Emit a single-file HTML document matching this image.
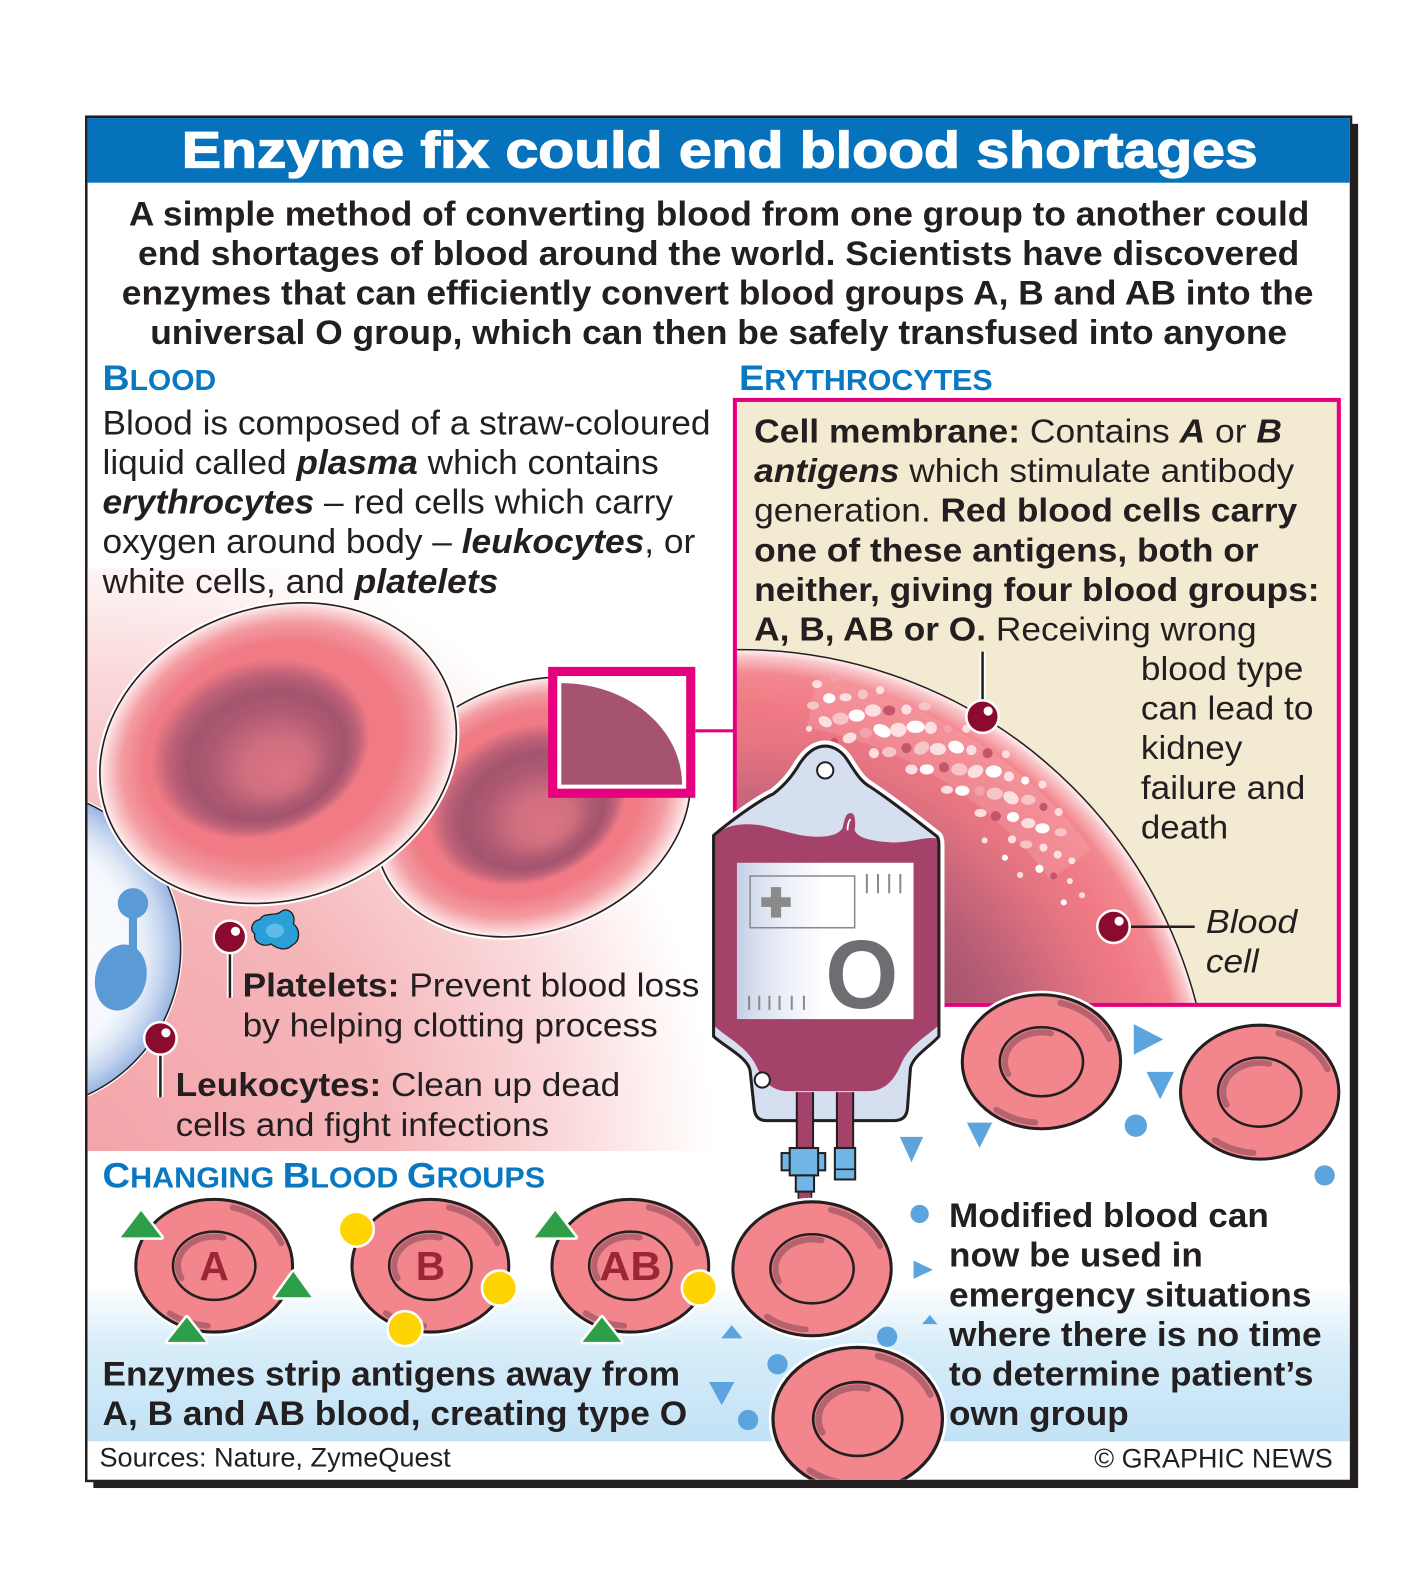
<!DOCTYPE html>
<html><head><meta charset="utf-8"><style>
html,body{margin:0;padding:0;background:#fff;}
svg{display:block;}
text{font-family:"Liberation Sans",Arial,Helvetica,sans-serif;}
</style></head><body>
<svg width="1417" height="1594" viewBox="0 0 1396 1570.4" preserveAspectRatio="none" xmlns="http://www.w3.org/2000/svg">
<defs>
 <radialGradient id="pinkbg" gradientUnits="userSpaceOnUse" cx="86" cy="1134" r="650">
  <stop offset="0" stop-color="#f3a4a9"/>
  <stop offset="0.45" stop-color="#f5b6ba"/>
  <stop offset="0.72" stop-color="#fad8da"/>
  <stop offset="0.88" stop-color="#fef4f4"/>
  <stop offset="0.95" stop-color="#ffffff"/>
 </radialGradient>
 <linearGradient id="bluebg" x1="0" y1="0" x2="0" y2="1">
  <stop offset="0" stop-color="#ffffff"/>
  <stop offset="0.4" stop-color="#d7edf9"/>
  <stop offset="1" stop-color="#c1e2f6"/>
 </linearGradient>
 <radialGradient id="bigc" gradientUnits="userSpaceOnUse" cx="729" cy="1104" r="464">
  <stop offset="0" stop-color="#a3526e"/>
  <stop offset="0.5" stop-color="#a6546f"/>
  <stop offset="0.6" stop-color="#b45c74"/>
  <stop offset="0.7" stop-color="#cd687c"/>
  <stop offset="0.8" stop-color="#e57581"/>
  <stop offset="0.88" stop-color="#f07a85"/>
  <stop offset="0.95" stop-color="#f3888f"/>
  <stop offset="0.985" stop-color="#f9c6c9"/>
  <stop offset="1" stop-color="#fff3f2"/>
 </radialGradient>
 <radialGradient id="rbc" cx="0.5" cy="0.5" r="0.5" fx="0.46" fy="0.44">
  <stop offset="0" stop-color="#f07a84"/>
  <stop offset="0.72" stop-color="#f07b85"/>
  <stop offset="0.86" stop-color="#f39ba1"/>
  <stop offset="0.96" stop-color="#fad3d5"/>
  <stop offset="1" stop-color="#fff2f2"/>
 </radialGradient>
 <radialGradient id="dimple" cx="0.5" cy="0.5" r="0.5" fx="0.56" fy="0.68">
  <stop offset="0" stop-color="#dc7583"/>
  <stop offset="0.3" stop-color="#d06e7f"/>
  <stop offset="0.55" stop-color="#af5a73"/>
  <stop offset="0.72" stop-color="#a4546e"/>
  <stop offset="0.86" stop-color="#bd6178"/>
  <stop offset="1" stop-color="#f07a84"/>
 </radialGradient>
 <radialGradient id="wbc" gradientUnits="userSpaceOnUse" cx="20" cy="935" r="157">
  <stop offset="0" stop-color="#ffffff"/>
  <stop offset="0.7" stop-color="#f5f8fd"/>
  <stop offset="0.8" stop-color="#e2eaf7"/>
  <stop offset="0.9" stop-color="#c3d4ee"/>
  <stop offset="0.97" stop-color="#a6bfe6"/>
  <stop offset="1" stop-color="#9bb6e2"/>
 </radialGradient>
 <linearGradient id="label" x1="0" y1="0" x2="1" y2="0">
  <stop offset="0" stop-color="#c5cfe6"/>
  <stop offset="0.12" stop-color="#d9e0ef"/>
  <stop offset="0.3" stop-color="#eef1f8"/>
  <stop offset="0.5" stop-color="#ffffff"/>
  <stop offset="1" stop-color="#ffffff"/>
 </linearGradient>
 <clipPath id="frameClip"><rect x="86.3" y="116.3" width="1243.4" height="1341.4"/></clipPath>
 <clipPath id="boxClip"><rect x="726" y="396" width="591" height="592"/></clipPath>
 <g id="fcell">
  <ellipse rx="82" ry="70" fill="#fff"/>
  <ellipse rx="78" ry="66" fill="#f2868c" stroke="#231f20" stroke-width="3"/>
  <path d="M18.6,-58 A72,60 0 0 1 66.8,-22.5" fill="none" stroke="#b5646f" stroke-width="6" stroke-linecap="round"/>
  <path d="M-6.3,59.8 A72,60 0 0 1 -44.3,47.3" fill="none" stroke="#b5646f" stroke-width="6" stroke-linecap="round"/>
  <ellipse rx="41" ry="34" fill="none" stroke="#231f20" stroke-width="2.5"/>
  <path d="M-32.6,12.3 A36,29 0 0 1 9.3,-28" fill="none" stroke="#b5646f" stroke-width="6" stroke-linecap="round"/>
 </g>
 <g id="pin">
  <circle r="16" fill="#8b0b2f" stroke="#fff" stroke-width="2.5"/>
  <circle cx="5.5" cy="-5.5" r="4.5" fill="#fff"/>
 </g>
</defs>

<!-- frame -->
<rect x="92" y="122" width="1246" height="1344" fill="#231f20"/>
<rect x="85" y="115" width="1246" height="1344" fill="#fff" stroke="#231f20" stroke-width="2.5"/>
<rect x="86.3" y="116.3" width="1243.4" height="63.7" fill="#0572bb"/>
<text x="179" y="165" font-size="50" font-weight="bold" fill="#fff" stroke="#fff" stroke-width="1.3" textLength="1060" lengthAdjust="spacingAndGlyphs">Enzyme fix could end blood shortages</text>

<g clip-path="url(#frameClip)">
 <!-- backgrounds -->
 <rect x="86" y="560" width="640" height="574" fill="url(#pinkbg)"/>
 <rect x="86" y="1265" width="1244" height="155" fill="url(#bluebg)"/>

 <!-- leukocyte -->
 <circle cx="20" cy="935" r="160" fill="#fff"/>
 <circle cx="20" cy="935" r="158" fill="url(#wbc)" stroke="#231f20" stroke-width="1.5"/>
 <circle cx="131" cy="890" r="15" fill="#5b9bd5"/>
 <rect x="127" y="895" width="8" height="50" fill="#5b9bd5"/>
 <ellipse cx="119" cy="963" rx="25" ry="33" transform="rotate(15 119 963)" fill="#5b9bd5"/>

 <!-- red cell 2 -->
 <g transform="translate(525,795) rotate(-22)">
  <ellipse rx="163" ry="125" fill="#fff"/>
  <ellipse rx="160" ry="122" fill="url(#rbc)" stroke="#231f20" stroke-width="1.6"/>
  <ellipse cx="-4" cy="-4" rx="100" ry="76" fill="url(#dimple)"/>
 </g>
 <!-- red cell 1 -->
 <g transform="translate(274,742) rotate(-19)">
  <ellipse rx="182" ry="147" fill="#fff"/>
  <ellipse rx="179" ry="144" fill="url(#rbc)" stroke="#231f20" stroke-width="1.6"/>
  <ellipse cx="-15" cy="-10" rx="110" ry="86" fill="url(#dimple)"/>
 </g>

 <!-- platelet -->
 <path d="M256,906 C260,898 272,903 277,898 C284,893 292,901 289,910 C296,916 296,927 288,931 C282,938 272,934 267,930 C259,934 249,928 251,920 C245,915 249,907 256,906 Z" fill="#2a9fd8" stroke="#231f20" stroke-width="1.3"/>
 <ellipse cx="271" cy="917" rx="9" ry="7" fill="#5fbbe8"/>

 <!-- magnifier square -->
 <line x1="685" y1="720" x2="724" y2="720" stroke="#e6007e" stroke-width="3"/>
 <rect x="544.5" y="661.5" width="136" height="120" fill="#fff" stroke="#e6007e" stroke-width="9"/>
 <path d="M553,673 A119,100 0 0 1 672,773 L553,773 Z" fill="#a5536f"/>

 <!-- erythrocytes box -->
 <rect x="724" y="394" width="595" height="596" fill="#f2ead1"/>
 <g clip-path="url(#boxClip)">
  <circle cx="729" cy="1104" r="464" fill="url(#bigc)" stroke="#231f20" stroke-width="1.5"/>
  <path d="M800,692 A415,415 0 0 1 1055,852" fill="none" stroke="#f6b0b6" stroke-width="50" stroke-opacity="0.3"/>
  <g>
   <ellipse cx="801" cy="695" rx="6" ry="4" fill="#f7c4c8"/><ellipse cx="805" cy="674" rx="5" ry="4" fill="#fbdfe1"/><circle cx="797" cy="718" r="3" fill="#fbdfe1"/>
   <ellipse cx="813" cy="711" rx="7" ry="5" fill="#fbdfe1" transform="rotate(30 813 711)"/><ellipse cx="817" cy="688" rx="6" ry="5" fill="#fff"/><circle cx="822" cy="668" r="4" fill="#f3a2aa"/>
   <circle cx="822" cy="731" r="4" fill="#c4566c"/><ellipse cx="828" cy="708" rx="8" ry="6" fill="#f7c4c8"/><ellipse cx="833" cy="687" rx="6" ry="4" fill="#fbdfe1"/>
   <ellipse cx="837" cy="727" rx="7" ry="5" fill="#fbdfe1" transform="rotate(-20 837 727)"/><ellipse cx="844" cy="705" rx="8" ry="6" fill="#fff"/><circle cx="850" cy="684" r="5" fill="#f7c4c8"/>
   <ellipse cx="853" cy="722" rx="6" ry="5" fill="#f3a2aa"/><ellipse cx="860" cy="700" rx="8" ry="6" fill="#fbdfe1"/><circle cx="867" cy="680" r="4" fill="#fbdfe1"/>
   <circle cx="861" cy="742" r="5" fill="#fbdfe1"/><ellipse cx="869" cy="720" rx="9" ry="6" fill="#fff" transform="rotate(25 869 720)"/><ellipse cx="876" cy="700" rx="6" ry="5" fill="#c4566c"/>
   <ellipse cx="876" cy="741" rx="7" ry="5" fill="#f7c4c8"/><ellipse cx="885" cy="719" rx="8" ry="7" fill="#fbdfe1"/><circle cx="893" cy="699" r="5" fill="#fbdfe1"/>
   <circle cx="893" cy="737" r="5" fill="#c4566c"/><ellipse cx="902" cy="716" rx="9" ry="6" fill="#fff"/><ellipse cx="911" cy="696" rx="6" ry="4" fill="#f7c4c8"/>
   <ellipse cx="898" cy="758" rx="6" ry="5" fill="#fbdfe1"/><ellipse cx="908" cy="737" rx="8" ry="6" fill="#f7c4c8" transform="rotate(-30 908 737)"/><circle cx="917" cy="717" r="6" fill="#fbdfe1"/>
   <ellipse cx="913" cy="758" rx="7" ry="5" fill="#fff"/><ellipse cx="924" cy="738" rx="8" ry="6" fill="#fbdfe1"/><circle cx="934" cy="718" r="4" fill="#f3a2aa"/>
   <circle cx="930" cy="756" r="5" fill="#c4566c"/><ellipse cx="942" cy="736" rx="8" ry="6" fill="#fff" transform="rotate(20 942 736)"/><circle cx="952" cy="718" r="4" fill="#fbdfe1"/>
   <ellipse cx="933" cy="778" rx="6" ry="4" fill="#fbdfe1"/><ellipse cx="945" cy="758" rx="8" ry="6" fill="#f7c4c8"/><circle cx="957" cy="739" r="5" fill="#fbdfe1"/>
   <ellipse cx="948" cy="779" rx="7" ry="5" fill="#fff"/><ellipse cx="961" cy="760" rx="8" ry="6" fill="#fbdfe1" transform="rotate(-25 961 760)"/><circle cx="973" cy="742" r="5" fill="#c4566c"/>
   <circle cx="965" cy="779" r="5" fill="#f3a2aa"/><ellipse cx="979" cy="760" rx="8" ry="6" fill="#fff"/><circle cx="991" cy="743" r="4" fill="#fbdfe1"/>
   <ellipse cx="966" cy="801" rx="6" ry="4" fill="#fbdfe1"/><ellipse cx="980" cy="782" rx="8" ry="6" fill="#f7c4c8"/><circle cx="994" cy="765" r="5" fill="#fbdfe1"/>
   <circle cx="981" cy="804" r="5" fill="#c4566c"/><ellipse cx="996" cy="786" rx="8" ry="6" fill="#fbdfe1" transform="rotate(30 996 786)"/><circle cx="1010" cy="769" r="4" fill="#fff"/>
   <ellipse cx="998" cy="805" rx="6" ry="5" fill="#fff"/><ellipse cx="1013" cy="788" rx="7" ry="5" fill="#f7c4c8"/><circle cx="1027" cy="773" r="4" fill="#fbdfe1"/>
   <circle cx="997" cy="827" r="4" fill="#fbdfe1"/><ellipse cx="1013" cy="811" rx="7" ry="5" fill="#fbdfe1"/><circle cx="1028" cy="795" r="4" fill="#c4566c"/>
   <ellipse cx="1011" cy="832" rx="6" ry="4" fill="#f7c4c8"/><ellipse cx="1027" cy="816" rx="7" ry="5" fill="#fff"/><circle cx="1043" cy="800" r="4" fill="#fbdfe1"/>
   <circle cx="1028" cy="835" r="4" fill="#fbdfe1"/><ellipse cx="1045" cy="820" rx="6" ry="4" fill="#f7c4c8"/>
   <circle cx="1024" cy="856" r="4" fill="#fff"/><circle cx="1042" cy="842" r="4" fill="#fbdfe1"/>
   <circle cx="1038" cy="863" r="3.5" fill="#c4566c"/><circle cx="1056" cy="848" r="3.5" fill="#fbdfe1"/>
   <circle cx="1054" cy="868" r="3" fill="#fbdfe1"/><circle cx="1048" cy="889" r="3" fill="#fff"/>
   <circle cx="1066" cy="882" r="3" fill="#fbdfe1"/><circle cx="990" cy="845" r="3" fill="#fff"/>
   <circle cx="1005" cy="862" r="3" fill="#fbdfe1"/><circle cx="970" cy="828" r="3" fill="#fbdfe1"/>
  </g>
 </g>
 <!-- membrane pin -->
 <line x1="968" y1="642" x2="968" y2="692" stroke="#fff" stroke-width="6"/>
 <line x1="968" y1="642" x2="968" y2="692" stroke="#231f20" stroke-width="2.5"/>
 <use href="#pin" x="968" y="706"/>
 <!-- blood cell pin -->
 <line x1="1112" y1="913" x2="1177" y2="913" stroke="#231f20" stroke-width="2.5"/>
 <use href="#pin" x="1097" y="913"/>
 <rect x="724" y="394" width="595" height="596" fill="none" stroke="#e6007e" stroke-width="4"/>

 <!-- blood bag -->
 <g>
  <path d="M703,823 C716,812 745,790 762,782 C775,772 782,762 788,752 C796,740 804,735 813,735 C822,735 830,741 835,749 C842,760 848,770 857,775 C874,786 900,806 923,824 Q925,826 925,832 L925,1021 C915,1032 900,1040 897,1052 L894,1092 Q893,1104 881,1104 L755,1104 Q744,1104 743,1092 L739,1055 C737,1042 715,1032 703,1021 Z" fill="#fff" stroke="#fff" stroke-width="11" stroke-linejoin="round"/>
  <path d="M703,823 C716,812 745,790 762,782 C775,772 782,762 788,752 C796,740 804,735 813,735 C822,735 830,741 835,749 C842,760 848,770 857,775 C874,786 900,806 923,824 Q925,826 925,832 L925,1021 C915,1032 900,1040 897,1052 L894,1092 Q893,1104 881,1104 L755,1104 Q744,1104 743,1092 L739,1055 C737,1042 715,1032 703,1021 Z" fill="#d6dff0"/>
  <path d="M703,823 C712,816 722,812 735,812 C755,812 765,818 790,823 C810,826 825,824 830,816 C832,808 833,801 838,801 C843,801 843,810 842,818 C845,826 860,829 880,830 C900,830 910,824 923,826 L925,832 L925,1010 C912,1022 895,1030 887,1050 C880,1066 870,1075 855,1075 L775,1075 C760,1074 752,1066 745,1050 C735,1030 715,1022 703,1010 Z" fill="#a5426a"/>
  <path d="M835,818 Q835,810 838,807" fill="none" stroke="#fff" stroke-width="1.8"/>
  <path d="M703,823 C716,812 745,790 762,782 C775,772 782,762 788,752 C796,740 804,735 813,735 C822,735 830,741 835,749 C842,760 848,770 857,775 C874,786 900,806 923,824 Q925,826 925,832 L925,1021 C915,1032 900,1040 897,1052 L894,1092 Q893,1104 881,1104 L755,1104 Q744,1104 743,1092 L739,1055 C737,1042 715,1032 703,1021 Z" fill="none" stroke="#231f20" stroke-width="3" stroke-linejoin="round"/>
  <circle cx="813" cy="759" r="8" fill="#fff" stroke="#231f20" stroke-width="2"/>
  <circle cx="751" cy="1064" r="7.5" fill="#fff" stroke="#231f20" stroke-width="2"/>
  <!-- label -->
  <rect x="726" y="850" width="174" height="154" fill="url(#label)"/>
  <rect x="739" y="863" width="103" height="51" fill="none" stroke="#8a8a8a" stroke-width="1.5"/>
  <rect x="750" y="884" width="29" height="9.5" fill="#8a8a8a"/>
  <rect x="759.5" y="874" width="10" height="30" fill="#8a8a8a"/>
  <g stroke="#8a8a8a" stroke-width="2">
   <line x1="854" y1="861" x2="854" y2="880"/><line x1="865" y1="861" x2="865" y2="880"/>
   <line x1="876" y1="861" x2="876" y2="880"/><line x1="887" y1="861" x2="887" y2="880"/>
   <line x1="738" y1="981" x2="738" y2="995"/><line x1="748" y1="981" x2="748" y2="995"/>
   <line x1="758" y1="981" x2="758" y2="995"/><line x1="768" y1="981" x2="768" y2="995"/>
   <line x1="780" y1="981" x2="780" y2="995"/><line x1="792" y1="981" x2="792" y2="995"/>
  </g>
  <text x="813" y="993" font-size="96" font-weight="bold" fill="#6d6e71" textLength="72" lengthAdjust="spacingAndGlyphs">O</text>
  <!-- tubes -->
  <rect x="785" y="1076" width="16" height="60" fill="#a5426a"/>
  <line x1="785" y1="1076" x2="785" y2="1136" stroke="#231f20" stroke-width="2"/>
  <line x1="801" y1="1076" x2="801" y2="1136" stroke="#231f20" stroke-width="2"/>
  <rect x="824.5" y="1076" width="16" height="60" fill="#a5426a"/>
  <line x1="824.5" y1="1076" x2="824.5" y2="1136" stroke="#231f20" stroke-width="2"/>
  <line x1="840.5" y1="1076" x2="840.5" y2="1136" stroke="#231f20" stroke-width="2"/>
  <!-- connectors -->
  <rect x="786.5" y="1172" width="13" height="10" fill="#a5426a" stroke="#231f20" stroke-width="1.5"/>
  <rect x="770" y="1136" width="43" height="17" fill="#6fb6e6" stroke="#231f20" stroke-width="2"/>
  <rect x="778" y="1131" width="28" height="27" fill="#6fb6e6" stroke="#231f20" stroke-width="2"/>
  <rect x="784" y="1158" width="18" height="16" fill="#6fb6e6" stroke="#231f20" stroke-width="2"/>
  <rect x="822.5" y="1131" width="20" height="31" fill="#6fb6e6" stroke="#231f20" stroke-width="2"/>
  <line x1="822.5" y1="1152" x2="842.5" y2="1152" stroke="#231f20" stroke-width="1.5"/>
 </g>

 <!-- enzymes -->
 <g fill="#5ba4dd">
  <polygon points="1117,1009 1146,1024 1117,1039"/>
  <polygon points="1129.5,1056 1156.5,1056 1143,1083"/>
  <circle cx="1119" cy="1109" r="11"/>
  <circle cx="1305" cy="1158" r="10"/>
  <polygon points="886.5,1120 909.5,1120 898,1145"/>
  <polygon points="952.5,1106 977.5,1106 965,1131"/>
  <circle cx="906" cy="1196" r="9"/>
  <polygon points="900,1242 919,1251 900,1260"/>
  <polygon points="908.5,1304.5 923.5,1304.5 916,1295.5"/>
  <circle cx="874" cy="1317" r="10"/>
  <polygon points="710.5,1318.5 731.5,1318.5 721,1305.5"/>
  <circle cx="766" cy="1344" r="10"/>
  <polygon points="698.5,1361.5 723.5,1361.5 711,1384.5"/>
  <circle cx="737" cy="1399" r="10"/>
 </g>

 <!-- flat cells -->
 <use href="#fcell" transform="translate(1026,1046)"/>
 <use href="#fcell" transform="translate(1241,1076)"/>
 <use href="#fcell" transform="translate(800,1250)"/>
 <rect x="86" y="1420" width="1244" height="40" fill="#fff"/>
 <use href="#fcell" transform="translate(845,1398) scale(1.07)"/>

 <!-- changing blood groups cells -->
 <use href="#fcell" transform="translate(211,1247) scale(0.99)"/>
 <use href="#fcell" transform="translate(424,1247) scale(0.99)"/>
 <use href="#fcell" transform="translate(621,1247) scale(0.99)"/>
 <g font-weight="bold" fill="#9d2634" font-size="40" text-anchor="middle">
  <text x="211" y="1261">A</text>
  <text x="424" y="1261">B</text>
  <text x="621" y="1261" textLength="61" lengthAdjust="spacingAndGlyphs">AB</text>
 </g>
 <!-- antigens -->
 <g stroke="#fff" stroke-width="5" stroke-linejoin="round">
  <polygon points="139,1193 159,1219 119,1219" fill="#2e9e48"/>
  <polygon points="289,1253 307,1278 271,1278" fill="#2e9e48"/>
  <polygon points="184,1298 203,1322 165,1322" fill="#2e9e48"/>
  <circle cx="351" cy="1211" r="16" fill="#ffd400"/>
  <circle cx="492" cy="1269" r="16" fill="#ffd400"/>
  <circle cx="399" cy="1309" r="16" fill="#ffd400"/>
  <polygon points="547,1193 567,1219 527,1219" fill="#2e9e48"/>
  <circle cx="689" cy="1269" r="16" fill="#ffd400"/>
  <polygon points="593,1298 612,1322 574,1322" fill="#2e9e48"/>
 </g>
 <g>
  <polygon points="139,1193 159,1219 119,1219" fill="#2e9e48"/>
  <polygon points="289,1253 307,1278 271,1278" fill="#2e9e48"/>
  <polygon points="184,1298 203,1322 165,1322" fill="#2e9e48"/>
  <circle cx="351" cy="1211" r="16" fill="#ffd400"/>
  <circle cx="492" cy="1269" r="16" fill="#ffd400"/>
  <circle cx="399" cy="1309" r="16" fill="#ffd400"/>
  <polygon points="547,1193 567,1219 527,1219" fill="#2e9e48"/>
  <circle cx="689" cy="1269" r="16" fill="#ffd400"/>
  <polygon points="593,1298 612,1322 574,1322" fill="#2e9e48"/>
 </g>

 <!-- left pins -->
 <line x1="226.5" y1="938" x2="226.5" y2="983" stroke="#fff" stroke-width="6"/>
 <line x1="226.5" y1="938" x2="226.5" y2="983" stroke="#231f20" stroke-width="2.5"/>
 <use href="#pin" x="226.5" y="923"/>
 <line x1="158" y1="1038" x2="158" y2="1081" stroke="#fff" stroke-width="6"/>
 <line x1="158" y1="1038" x2="158" y2="1081" stroke="#231f20" stroke-width="2.5"/>
 <use href="#pin" x="158" y="1023"/>
</g>

<!-- texts -->
<g fill="#231f20">
 <g font-size="34" font-weight="bold">
  <text x="127" y="222" textLength="1163" lengthAdjust="spacingAndGlyphs">A simple method of converting blood from one group to another could</text>
  <text x="136" y="261" textLength="1144" lengthAdjust="spacingAndGlyphs">end shortages of blood around the world. Scientists have discovered</text>
  <text x="120" y="300" textLength="1174" lengthAdjust="spacingAndGlyphs">enzymes that can efficiently convert blood groups A, B and AB into the</text>
  <text x="148" y="339" textLength="1120" lengthAdjust="spacingAndGlyphs">universal O group, which can then be safely transfused into anyone</text>
 </g>
 <g font-weight="bold" fill="#0a78c0">
  <text x="101" y="384" textLength="112" lengthAdjust="spacingAndGlyphs"><tspan font-size="35">B</tspan><tspan font-size="28">LOOD</tspan></text>
  <text x="728" y="384" textLength="250" lengthAdjust="spacingAndGlyphs"><tspan font-size="35">E</tspan><tspan font-size="28">RYTHROCYTES</tspan></text>
  <text x="101" y="1170" textLength="436" lengthAdjust="spacingAndGlyphs"><tspan font-size="35">C</tspan><tspan font-size="28">HANGING </tspan><tspan font-size="35">B</tspan><tspan font-size="28">LOOD </tspan><tspan font-size="35">G</tspan><tspan font-size="28">ROUPS</tspan></text>
 </g>
 <g font-size="34">
  <text x="101" y="428" textLength="599" lengthAdjust="spacingAndGlyphs">Blood is composed of a straw-coloured</text>
  <text x="101" y="467" textLength="548" lengthAdjust="spacingAndGlyphs">liquid called <tspan font-weight="bold" font-style="italic">plasma</tspan> which contains</text>
  <text x="101" y="506" textLength="562" lengthAdjust="spacingAndGlyphs"><tspan font-weight="bold" font-style="italic">erythrocytes</tspan> – red cells which carry</text>
  <text x="101" y="545" textLength="584" lengthAdjust="spacingAndGlyphs">oxygen around body – <tspan font-weight="bold" font-style="italic">leukocytes</tspan>, or</text>
  <text x="101" y="584" textLength="390" lengthAdjust="spacingAndGlyphs">white cells, and <tspan font-weight="bold" font-style="italic">platelets</tspan></text>
 </g>
 <g font-size="33">
  <text x="743" y="436" textLength="520" lengthAdjust="spacingAndGlyphs"><tspan font-weight="bold">Cell membrane:</tspan> Contains <tspan font-weight="bold" font-style="italic">A</tspan> or <tspan font-weight="bold" font-style="italic">B</tspan></text>
  <text x="743" y="475" textLength="532" lengthAdjust="spacingAndGlyphs"><tspan font-weight="bold" font-style="italic">antigens</tspan> which stimulate antibody</text>
  <text x="743" y="514" textLength="535" lengthAdjust="spacingAndGlyphs">generation. <tspan font-weight="bold">Red blood cells carry</tspan></text>
  <text x="743" y="553" font-weight="bold" textLength="497" lengthAdjust="spacingAndGlyphs">one of these antigens, both or</text>
  <text x="743" y="592" font-weight="bold" textLength="557" lengthAdjust="spacingAndGlyphs">neither, giving four blood groups:</text>
  <text x="743" y="631" textLength="495" lengthAdjust="spacingAndGlyphs"><tspan font-weight="bold">A, B, AB or O.</tspan> Receiving wrong</text>
  <text x="1124" y="670" textLength="160" lengthAdjust="spacingAndGlyphs">blood type</text>
  <text x="1124" y="709" textLength="170" lengthAdjust="spacingAndGlyphs">can lead to</text>
  <text x="1124" y="748" textLength="100" lengthAdjust="spacingAndGlyphs">kidney</text>
  <text x="1124" y="787" textLength="162" lengthAdjust="spacingAndGlyphs">failure and</text>
  <text x="1124" y="826" textLength="86" lengthAdjust="spacingAndGlyphs">death</text>
  <text x="1188" y="919" font-style="italic" textLength="90" lengthAdjust="spacingAndGlyphs">Blood</text>
  <text x="1188" y="958" font-style="italic" textLength="52" lengthAdjust="spacingAndGlyphs">cell</text>
 </g>
 <g font-size="33">
  <text x="239" y="982" textLength="450" lengthAdjust="spacingAndGlyphs"><tspan font-weight="bold">Platelets:</tspan> Prevent blood loss</text>
  <text x="239" y="1021" textLength="409" lengthAdjust="spacingAndGlyphs">by helping clotting process</text>
  <text x="173" y="1080" textLength="438" lengthAdjust="spacingAndGlyphs"><tspan font-weight="bold">Leukocytes:</tspan> Clean up dead</text>
  <text x="173" y="1119" textLength="368" lengthAdjust="spacingAndGlyphs">cells and fight infections</text>
 </g>
 <g font-size="34" font-weight="bold">
  <text x="101" y="1365" textLength="569" lengthAdjust="spacingAndGlyphs">Enzymes strip antigens away from</text>
  <text x="101" y="1404" textLength="576" lengthAdjust="spacingAndGlyphs">A, B and AB blood, creating type O</text>
  <text x="935" y="1209" textLength="315" lengthAdjust="spacingAndGlyphs">Modified blood can</text>
  <text x="935" y="1248" textLength="250" lengthAdjust="spacingAndGlyphs">now be used in</text>
  <text x="935" y="1287" textLength="357" lengthAdjust="spacingAndGlyphs">emergency situations</text>
  <text x="935" y="1326" textLength="367" lengthAdjust="spacingAndGlyphs">where there is no time</text>
  <text x="935" y="1365" textLength="359" lengthAdjust="spacingAndGlyphs">to determine patient’s</text>
  <text x="935" y="1404" textLength="177" lengthAdjust="spacingAndGlyphs">own group</text>
 </g>
 <g font-size="26.5">
  <text x="98" y="1445" textLength="346" lengthAdjust="spacingAndGlyphs">Sources: Nature, ZymeQuest</text>
  <text x="1078" y="1446" textLength="235" lengthAdjust="spacingAndGlyphs">© GRAPHIC NEWS</text>
 </g>
</g>
</svg>
</body></html>
